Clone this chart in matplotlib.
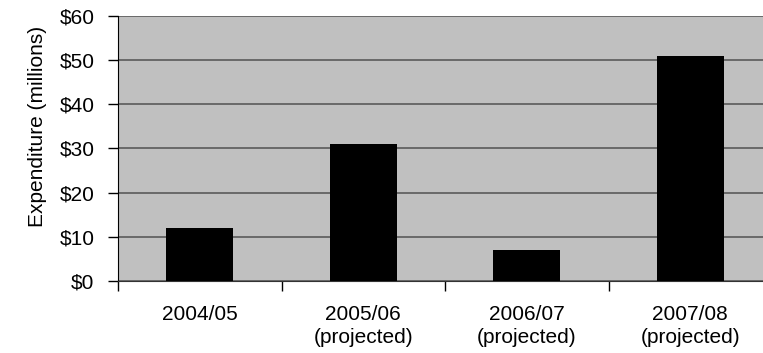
import matplotlib.pyplot as plt
import numpy as np

plt.rcParams['font.family'] = ['Liberation Sans', 'DejaVu Sans']

years = ["2004/05", "2005/06\n(projected)", "2006/07\n(projected)", "2007/08\n(projected)"]
spending = [12, 31, 7, 51]
y_ticks = [0, 10, 20, 30, 40, 50, 60]
y_labels = ["$0", "$10", "$20", "$30", "$40", "$50", "$60"]

fig = plt.figure(figsize=(7.63, 3.53), dpi=100)
# plot area runs a little past the right edge of the figure
ax = fig.add_axes([118 / 763, 72 / 353, 654 / 763, 265 / 353])
ax.set_facecolor("#c0c0c0")

x = np.arange(len(years))
ax.bar(x, spending, width=0.41, color="black", zorder=3)

ax.set_xlim(-0.5, len(years) - 0.5)
ax.set_ylim(0, 60)

ax.set_yticks(y_ticks)
ax.set_yticklabels(y_labels, fontsize=15)
ax.yaxis.grid(True, color="#5a5a5a", linewidth=1.2, zorder=1)
ax.set_axisbelow(True)

# category boundaries get the tick marks, centres get the labels
ax.set_xticks(np.r_[-0.5, x[:-1] + 0.5])
ax.set_xticklabels([])
ax.set_xticks(x, minor=True)
ax.set_xticklabels(years, minor=True, fontsize=15, linespacing=1.3)
ax.tick_params(axis="x", which="minor", length=0, pad=17)
ax.tick_params(axis="x", which="major", length=7, width=1, color="black")
ax.tick_params(axis="y", length=7, width=1, color="black", pad=10)

ax.set_ylabel("Expenditure (millions)", fontsize=15)
ax.yaxis.set_label_coords(-0.108, 0.585)

for side in ["top", "right"]:
    ax.spines[side].set_visible(False)
ax.spines["left"].set_color("black")
ax.spines["bottom"].set_color("#333333")

fig.savefig("out.png", dpi=100)
